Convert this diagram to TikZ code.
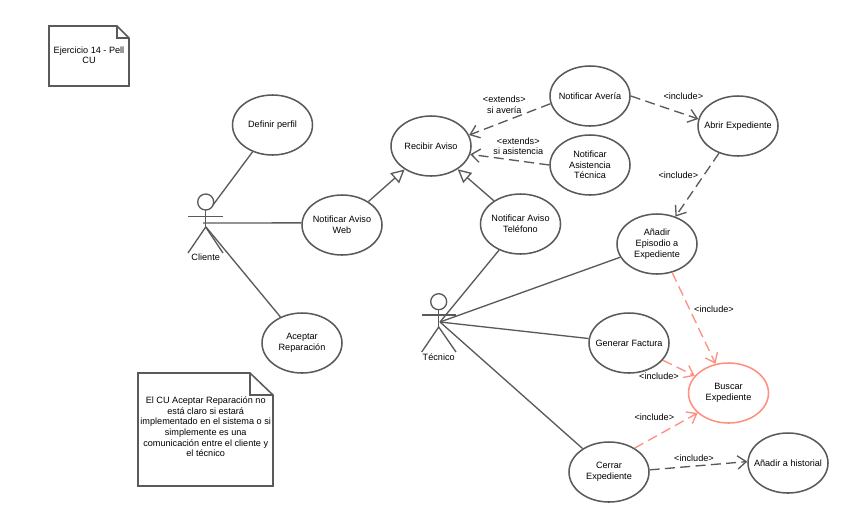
\documentclass[tikz,border=0pt]{standalone}
\usepackage{fontspec}
\setmainfont{Liberation Sans}
\usetikzlibrary{arrows.meta,shapes.geometric}
\definecolor{linegray}{HTML}{5A5A5A}
\definecolor{salmon}{HTML}{FF8F80}
\tikzset{
  usecase/.style={draw=linegray, line width=1.15pt, ellipse, minimum width=60pt, minimum height=45pt, inner xsep=-8pt, inner ysep=0pt, align=center, font=\fontsize{6.85pt}{8pt}\selectfont},
  redcase/.style={usecase, draw=salmon},
  tag/.style={align=center, inner sep=0pt, font=\fontsize{6.85pt}{8pt}\selectfont},
  assoc/.style={draw=linegray, line width=1pt},
  general/.style={assoc, -{Triangle[open, length=10pt, width=10pt, fill=white]}},
  depend/.style={assoc, dash pattern=on 7.5pt off 4pt, -{Straight Barb[length=6.5pt, width=10pt]}},
  depred/.style={depend, draw=salmon},
  stick/.style={draw=linegray, line width=1pt},
  notebox/.style={draw=linegray, line width=1.15pt, line join=miter}
}
\begin{document}
\begin{tikzpicture}[x=0.75pt, y=-0.75pt]
    \useasboundingbox (0,0) rectangle (848,522);

    \coordinate (clienteA) at (213,205);
    \coordinate (clienteB) at (203,223);
    \coordinate (clienteC) at (206,227);
    \coordinate (tecnico) at (440,322);

    \node[usecase] (definir) at (272.5,125) {Definir perfil};
    \node[usecase] (web) at (342,225) {Notificar Aviso\\Web};
    \node[usecase] (aceptar) at (302,343) {Aceptar\\Reparación};
    \node[usecase] (recibir) at (431,146) {Recibir Aviso};
    \node[usecase] (averia) at (590,96) {Notificar Avería};
    \node[usecase] (asistencia) at (590,165) {Notificar\\Asistencia\\Técnica};
    \node[usecase] (telefono) at (520.5,224) {Notificar Aviso\\Teléfono};
    \node[usecase] (abrir) at (738,126) {Abrir Expediente};
    \node[usecase] (episodio) at (657,244) {Añadir\\Episodio a\\Expediente};
    \node[usecase] (factura) at (629,343) {Generar Factura};
    \node[redcase] (buscar) at (728.5,393) {Buscar\\Expediente};
    \node[usecase] (cerrar) at (609,472) {Cerrar\\Expediente};
    \node[usecase] (historial) at (788,463) {Añadir a historial};

    % actores
    \draw[stick] (205.7,202) circle (8);
    \draw[stick] (205.7,210) -- (205.7,227);
    \draw[stick] (188,216.7) -- (223,216.7);
    \draw[stick] (188,253) -- (205.7,227) -- (223,253);
    \node[tag] (cliente) at (205.7,257.7) {Cliente};

    \draw[stick] (438.7,301.7) circle (8);
    \draw[stick] (438.7,309.7) -- (438.7,327);
    \draw[stick] (421.7,315) -- (456,315);
    \draw[stick] (421.7,352) -- (438.7,327) -- (456,352);
    \node[tag] (tecnicoName) at (438.7,356.7) {Técnico};

    \draw[assoc] (clienteA) -- (definir);
    \draw[assoc] (clienteB) -- (web.177);
    \draw[assoc] (clienteC) -- (aceptar);
    \draw[assoc] (tecnico) -- (telefono);
    \draw[assoc] (tecnico) -- (episodio);
    \draw[assoc] (tecnico) -- (factura);
    \draw[assoc] (tecnico) -- (cerrar);

    \draw[general] (web) -- (recibir);
    \draw[general] (telefono) -- (recibir);

    \draw[depend] (averia.191) -- (recibir.16);
    \draw[depend] (asistencia.180) -- (recibir.-12);
    \draw[depend] (averia.0) -- (abrir.170);
    \draw[depend] (abrir.235) -- (episodio.56);
    \draw[depend] (cerrar.3) -- (historial.178);
    \draw[depred] (episodio.-62) -- (buscar.114);
    \draw[depred] (factura.-27) -- (buscar.153);
    \draw[depred] (cerrar.43) -- (buscar.213);

    \node[tag] (tagA) at (504.3,105) {<extends>\\si avería};
    \node[tag] (tagB) at (518.3,146.3) {<extends>\\si asistencia};
    \node[tag] (tagC) at (683.3,96.7) {<include>};
    \node[tag] (tagD) at (678.3,175.7) {<include>};
    \node[tag] (tagE) at (714,309.7) {<include>};
    \node[tag] (tagF) at (659,376) {<include>};
    \node[tag] (tagG) at (654.3,417.7) {<include>};
    \node[tag] (tagH) at (694,458.3) {<include>};

    % notas
    \draw[notebox] (49,26) -- (117,26) -- (129,38) -- (129,86) -- (49,86) -- cycle;
    \draw[notebox] (117,26) -- (117,38) -- (129,38);
    \node[tag] (noteTitle) at (89,55.3) {Ejercicio 14 - Pell\\CU};

    \draw[notebox] (138,373) -- (250,373) -- (273,395) -- (273,486) -- (138,486) -- cycle;
    \draw[notebox] (250,373) -- (250,395) -- (273,395);
    \node[tag] (noteCU) at (205.7,426.7) {El CU Aceptar Reparación no\\está claro si estará\\implementado en el sistema o si\\simplemente es una\\comunicación entre el cliente y\\el técnico};
\end{tikzpicture}
\end{document}
